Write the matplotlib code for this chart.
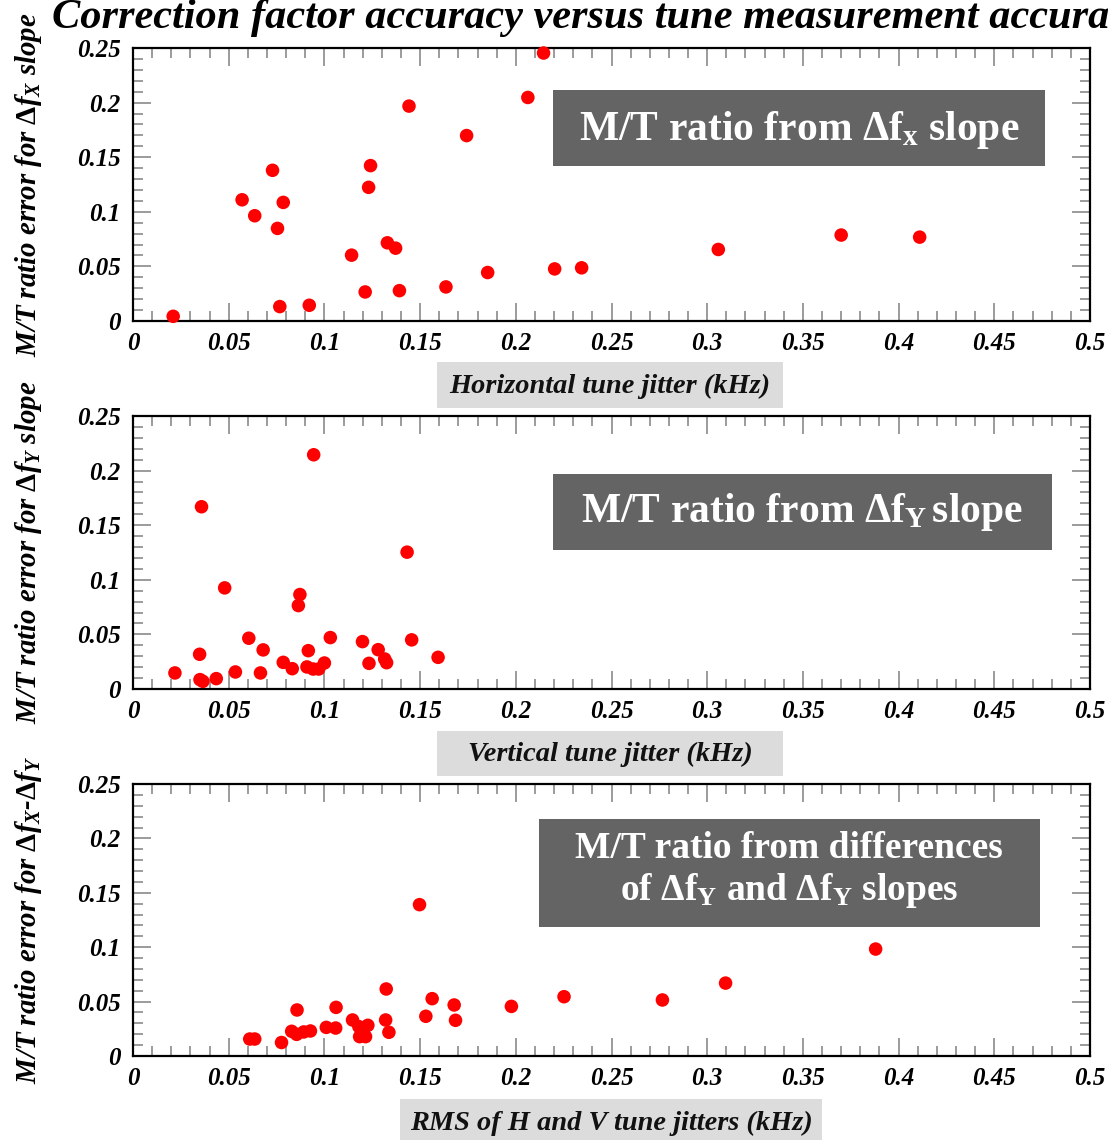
import matplotlib

matplotlib.use("Agg")
import matplotlib.pyplot as plt
from matplotlib.patches import Rectangle
from matplotlib.ticker import MultipleLocator

plt.rcParams["font.family"] = ["Liberation Serif", "DejaVu Serif"]
plt.rcParams["mathtext.fontset"] = "custom"
plt.rcParams["mathtext.rm"] = "Liberation Serif:bold"
plt.rcParams["mathtext.it"] = "Liberation Serif:italic:bold"
plt.rcParams["mathtext.bf"] = "Liberation Serif:bold"

# horizontal tune jitter (kHz) vs M/T ratio error, delta f_X slope
h_jitter = [0.021, 0.057, 0.0636, 0.0729, 0.0785, 0.0755, 0.0767, 0.0921, 0.1142, 0.1213, 0.1231, 0.1241, 0.1329,
            0.1372, 0.1392, 0.1442, 0.1635, 0.1743, 0.1853, 0.2063, 0.2145, 0.2203, 0.2344, 0.3058, 0.370, 0.411]
h_error = [0.0043, 0.111, 0.0964, 0.138, 0.1086, 0.0848, 0.0132, 0.0144, 0.0603, 0.0266, 0.1224, 0.1423, 0.0716,
           0.0667, 0.0278, 0.1968, 0.0312, 0.1698, 0.0444, 0.2047, 0.2454, 0.0477, 0.0487, 0.0655, 0.0787, 0.0768]

# vertical tune jitter (kHz) vs M/T ratio error, delta f_Y slope
v_jitter = [0.0219, 0.0348, 0.0358, 0.035, 0.0365, 0.0435, 0.0479, 0.0535, 0.0605, 0.068, 0.0666, 0.0785, 0.0832,
            0.0872, 0.0864, 0.0916, 0.0909, 0.0944, 0.0941, 0.097, 0.100, 0.1031, 0.1199, 0.1233, 0.1281, 0.1315,
            0.1325, 0.1432, 0.1456, 0.1594]
v_error = [0.0147, 0.0318, 0.1669, 0.0086, 0.007, 0.0095, 0.0926, 0.0156, 0.0465, 0.0358, 0.0147, 0.0244, 0.0186,
           0.0865, 0.0764, 0.0351, 0.0202, 0.2145, 0.0183, 0.0183, 0.0238, 0.0471, 0.0434, 0.0235, 0.036, 0.0275,
           0.0241, 0.1253, 0.045, 0.029]

# RMS of H and V jitters (kHz) vs M/T ratio error, delta f_X - delta f_Y
rms_jitter = [0.061, 0.0636, 0.0776, 0.0829, 0.0855, 0.0857, 0.0892, 0.0927, 0.101, 0.1059, 0.1061, 0.1147, 0.118,
              0.1184, 0.1215, 0.1227, 0.132, 0.1323, 0.1337, 0.1497, 0.153, 0.1563, 0.1678, 0.1685, 0.1977, 0.2252,
              0.2766, 0.3096, 0.388]
rms_error = [0.0156, 0.0156, 0.0124, 0.0227, 0.0199, 0.0423, 0.0221, 0.023, 0.0263, 0.0257, 0.0447, 0.0331, 0.027,
             0.0178, 0.0178, 0.0282, 0.0331, 0.0616, 0.0218, 0.1391, 0.0365, 0.0527, 0.0469, 0.0328, 0.0456, 0.0545,
             0.0515, 0.067, 0.0983]

TITLE = "Correction factor accuracy versus tune measurement accuracy"

W, H = 1108, 1140
FONT = {"family": ["Liberation Serif", "DejaVu Serif"], "weight": "bold"}


def px_rect(fig, x0, y0, x1, y1, color):
    # rectangle given in image pixels (origin top-left)
    fig.patches.append(Rectangle((x0 / W, 1 - y1 / H), (x1 - x0) / W, (y1 - y0) / H,
                                 transform=fig.transFigure, facecolor=color, edgecolor="none", zorder=5))


def px_text(fig, x, y, text, **kw):
    return fig.text(x / W, 1 - y / H, text, zorder=6, **kw)


def style_axes(ax):
    ax.set_xlim(0, 0.5)
    ax.set_ylim(0, 0.25)
    ax.xaxis.set_major_locator(MultipleLocator(0.05))
    ax.xaxis.set_minor_locator(MultipleLocator(0.01))
    ax.yaxis.set_major_locator(MultipleLocator(0.05))
    ax.yaxis.set_minor_locator(MultipleLocator(0.01))
    ax.xaxis.set_major_formatter(lambda v, _: f"{v:g}")
    ax.yaxis.set_major_formatter(lambda v, _: f"{v:g}")
    ax.tick_params(which="both", direction="in", top=True, right=True, color="#808080", width=1.1)
    ax.tick_params(which="major", length=13)
    ax.tick_params(which="minor", length=7)
    ax.tick_params(axis="x", which="major", pad=8)
    ax.tick_params(axis="y", which="major", pad=9)
    for lab in ax.get_xticklabels() + ax.get_yticklabels():
        lab.set_fontsize(18)
        lab.set_fontweight("bold")
        lab.set_fontstyle("italic")
    for spine in ax.spines.values():
        spine.set_linewidth(1.6)
        spine.set_color("black")


def panel(fig, top, bottom, xs, ys):
    left, right = 133, 1090
    ax = fig.add_axes([left / W, 1 - bottom / H, (right - left) / W, (bottom - top) / H])
    ax.scatter(xs, ys, s=95, color="#ff0000", edgecolors="none", zorder=3, clip_on=False)
    style_axes(ax)
    return ax


def main() -> None:
    fig = plt.figure(figsize=(W / 100, H / 100), dpi=100)

    px_text(fig, 52, 28, TITLE, fontsize=30.5, fontstyle="italic", va="baseline", ha="left", **FONT)

    panels = [
        (48, 321, h_jitter, h_error, r"M/T ratio error for $\Delta f_X$ slope"),
        (416, 689, v_jitter, v_error, r"M/T ratio error for $\Delta f_Y$ slope"),
        (784, 1056, rms_jitter, rms_error, r"M/T ratio error for $\Delta f_X$-$\Delta f_Y$"),
    ]
    for top, bottom, xs, ys, ylabel in panels:
        panel(fig, top, bottom, xs, ys)
        px_text(fig, 29, (top + bottom) / 2, ylabel, fontsize=20.8, fontstyle="italic", rotation=90,
                ha="center", va="center", **FONT)

    # x-axis captions on light grey boxes
    px_rect(fig, 437, 362, 783, 408, "#dcdcdc")
    px_text(fig, 610, 386, "Horizontal tune jitter (kHz)", fontsize=20.4, fontstyle="italic",
            ha="center", va="center", color="#111111", **FONT)
    px_rect(fig, 437, 731, 783, 776, "#dcdcdc")
    px_text(fig, 610, 754, "Vertical tune jitter (kHz)", fontsize=20.4, fontstyle="italic",
            ha="center", va="center", color="#111111", **FONT)
    px_rect(fig, 400, 1099, 822, 1140, "#dcdcdc")
    px_text(fig, 611, 1123, "RMS of H and V tune jitters (kHz)", fontsize=20.4, fontstyle="italic",
            ha="center", va="center", color="#111111", **FONT)

    # dark annotation boxes
    px_rect(fig, 553, 90, 1045, 166, "#646464")
    px_text(fig, 799, 130, r"M/T ratio from $\Delta\mathrm{f}_{\mathrm{x}}$ slope", fontsize=30,
            color="white", ha="center", va="center", **FONT)
    px_rect(fig, 553, 474, 1052, 550, "#646464")
    px_text(fig, 802, 512, r"M/T ratio from $\Delta\mathrm{f}_{\mathrm{Y}}\,$slope", fontsize=30,
            color="white", ha="center", va="center", **FONT)
    px_rect(fig, 539, 819, 1040, 927, "#646464")
    px_text(fig, 789, 848, "M/T ratio from differences", fontsize=27,
            color="white", ha="center", va="center", **FONT)
    px_text(fig, 789, 891, r"of $\Delta\mathrm{f}_{\mathrm{Y}}$ and $\Delta\mathrm{f}_{\mathrm{Y}}$ slopes",
            fontsize=27, color="white", ha="center", va="center", **FONT)

    fig.savefig("out.png", dpi=100)
    plt.close(fig)


if __name__ == "__main__":
    main()
